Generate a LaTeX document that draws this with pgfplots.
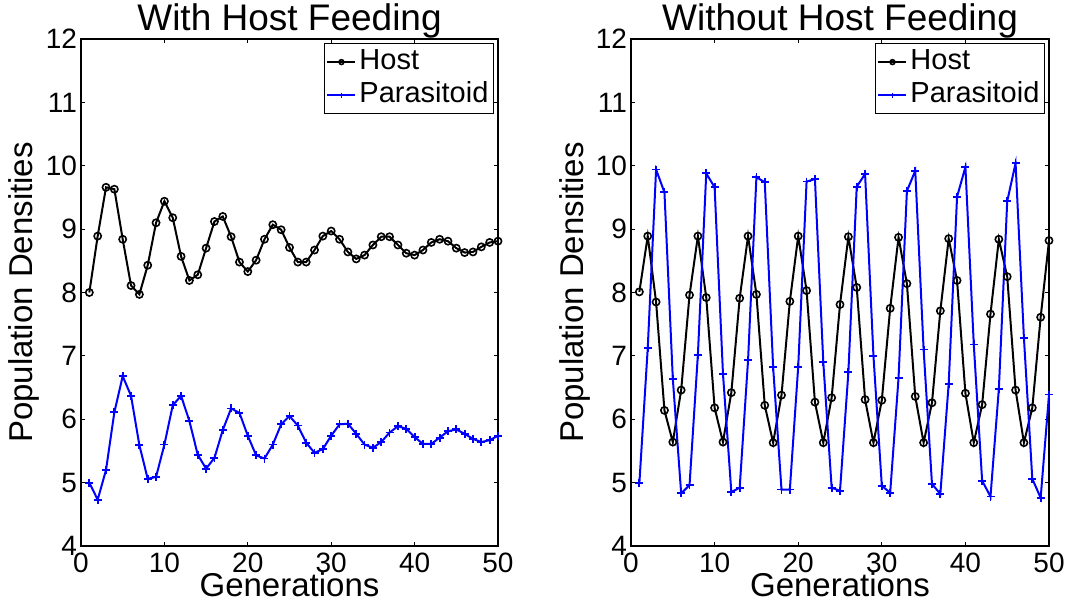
\documentclass[border=0pt]{standalone}
\usepackage{fontspec}
\setmainfont{Liberation Sans}
\usepackage{pgfplots}
\usepackage{pgfplotstable}
\pgfplotsset{compat=1.18}

% with host feeding
\pgfplotstableread{
g host para
1 8.00 5.00
2 8.89 4.73
3 9.66 5.20
4 9.63 6.11
5 8.84 6.68
6 8.11 6.37
7 7.97 5.59
8 8.43 5.06
9 9.10 5.09
10 9.44 5.60
11 9.18 6.22
12 8.57 6.37
13 8.19 5.97
14 8.28 5.44
15 8.70 5.22
16 9.12 5.39
17 9.20 5.83
18 8.88 6.17
19 8.48 6.10
20 8.33 5.74
21 8.51 5.43
22 8.84 5.38
23 9.07 5.60
24 8.99 5.92
25 8.71 6.05
26 8.48 5.90
27 8.48 5.63
28 8.67 5.47
29 8.89 5.53
30 8.97 5.74
31 8.84 5.92
32 8.64 5.93
33 8.53 5.77
34 8.59 5.60
35 8.75 5.55
36 8.88 5.64
37 8.88 5.79
38 8.75 5.89
39 8.62 5.85
40 8.59 5.72
41 8.67 5.61
42 8.79 5.61
43 8.84 5.71
44 8.81 5.81
45 8.70 5.84
46 8.63 5.77
47 8.64 5.69
48 8.72 5.64
49 8.79 5.67
50 8.81 5.74
}\withfeed

% without host feeding
\pgfplotstableread{
g host para
1 8.01 4.99
2 8.89 7.12
3 7.85 9.94
4 6.14 9.58
5 5.64 6.64
6 6.46 4.83
7 7.96 4.96
8 8.89 7.02
9 7.92 9.88
10 6.18 9.66
11 5.64 6.72
12 6.42 4.85
13 7.91 4.92
14 8.89 6.93
15 7.97 9.82
16 6.22 9.74
17 5.63 6.82
18 6.38 4.89
19 7.86 4.89
20 8.89 6.83
21 8.03 9.75
22 6.27 9.79
23 5.63 6.90
24 6.34 4.92
25 7.81 4.87
26 8.88 6.74
27 8.08 9.67
28 6.31 9.87
29 5.63 7.00
30 6.30 4.95
31 7.75 4.84
32 8.87 6.65
33 8.14 9.60
34 6.36 9.92
35 5.63 7.10
36 6.26 4.98
37 7.71 4.82
38 8.85 6.56
39 8.19 9.51
40 6.41 9.98
41 5.63 7.18
42 6.23 5.03
43 7.66 4.78
44 8.84 6.48
45 8.25 9.44
46 6.46 10.04
47 5.63 7.28
48 6.18 5.06
49 7.61 4.76
50 8.82 6.39
}\withoutfeed

\definecolor{mblue}{RGB}{0,0,255}

\pgfplotsset{
  popaxis/.style={
    scale only axis,
    width=208.5pt, height=253.5pt,
    anchor=south west,
    xmin=0, xmax=50, ymin=4, ymax=12,
    xtick={0,10,...,50}, ytick={4,...,12},
    tick align=inside,
    major tick length=2.2pt,
    major tick style={black, line width=0.6pt},
    axis line style={line width=0.75pt},
    /pgf/number format/assume math mode=true,
    ticklabel style={font=\fontsize{14}{14}\selectfont},
    yticklabel style={xshift=1.5pt},
    xlabel={Generations},
    ylabel={Population Densities},
    xlabel style={font=\fontsize{16.5}{16.5}\selectfont,
      at={(axis description cs:0.5,0)}, anchor=base, yshift=-25.5pt},
    ylabel style={font=\fontsize{16.5}{16.5}\selectfont,
      at={(axis description cs:0,0.5)}, anchor=base, yshift=24pt},
    title style={font=\fontsize{18.5}{18.5}\selectfont,
      at={(axis description cs:0.5,1)}, anchor=base, yshift=-1.5pt},
    legend style={font=\fontsize{14.5}{16}\selectfont,
      at={(axis description cs:1,1)}, anchor=north east,
      xshift=-2pt, yshift=-2pt, draw=black, line width=0.6pt,
      inner sep=1pt, row sep=0pt,
      nodes={inner sep=1.5pt, text height=10.5pt, text depth=3pt}},
    legend cell align=left,
    legend image code/.code={
      \draw[mark repeat=2, mark phase=2, #1, mark size=1.2pt]
        plot coordinates {(0pt,0pt) (7pt,0pt) (14pt,0pt)};
    },
  },
  hostline/.style={black, line width=1pt, mark=o, mark size=1.8pt,
    mark options={solid, line width=0.8pt}},
  paraline/.style={mblue, line width=1pt, mark=+, mark size=2pt,
    mark options={solid, line width=0.9pt}},
}

\begin{document}
\begin{tikzpicture}
\path[use as bounding box] (0,0) rectangle (534pt,301.5pt);

\begin{axis}[popaxis, at={(40.5pt,28.5pt)}, title={With Host Feeding}]
\addplot[hostline] table[x=g, y=host] {\withfeed};
\addlegendentry{Host}
\addplot[paraline] table[x=g, y=para] {\withfeed};
\addlegendentry{Parasitoid}
\end{axis}

\begin{axis}[popaxis, at={(315.5pt,28.5pt)}, width=209pt, title={Without Host Feeding}]
\addplot[hostline] table[x=g, y=host] {\withoutfeed};
\addlegendentry{Host}
\addplot[paraline] table[x=g, y=para] {\withoutfeed};
\addlegendentry{Parasitoid}
\end{axis}
\end{tikzpicture}
\end{document}
